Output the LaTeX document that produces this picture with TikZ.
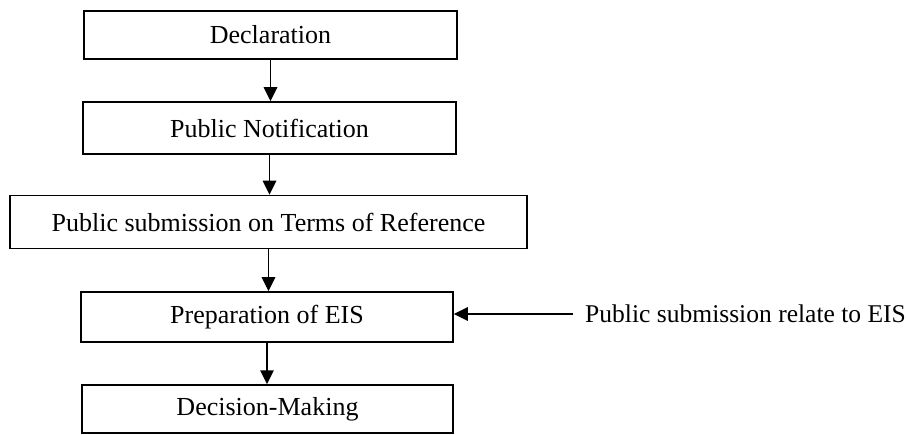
\documentclass[tikz,border=0pt]{standalone}
\usepackage{fontspec}
\setmainfont{Liberation Serif}
\usetikzlibrary{positioning,arrows.meta}

\tikzset{
  stage/.style={draw, line width=1.3pt, inner sep=0pt, align=center,
    font=\fontsize{22.2}{26}\selectfont},
  flow/.style={-{Triangle[length=0.42cm,width=0.40cm]}, line width=1.6pt},
}

\begin{document}
\begin{tikzpicture}[x=0.03cm, y=-0.03cm]
    \useasboundingbox (0,0) rectangle (908,434);

    % Stages (top to bottom)
    \node[stage, minimum width=373*0.03cm, minimum height=48*0.03cm] (decl)
      at (270.5,35) {Declaration};
    \node[stage, minimum width=373*0.03cm, minimum height=52*0.03cm] (notif)
      at (269.5,128) {Public Notification};
    \node[stage, minimum width=517*0.03cm, minimum height=53*0.03cm] (tor)
      at (268.5,222) {Public submission on Terms of Reference};
    \node[stage, minimum width=372*0.03cm, minimum height=50*0.03cm] (eis)
      at (267,317) {Preparation of EIS};
    \node[stage, minimum width=371*0.03cm, minimum height=48*0.03cm] (decision)
      at (267.5,409) {Decision-Making};

    % Side input
    \node[anchor=west, inner xsep=0.36cm, inner ysep=0pt,
      font=\fontsize{21.8}{26}\selectfont] (pubsub) at (573,314)
      {Public submission relate to EIS};

    % Arrows
    \draw[flow] (decl.south) -- (decl.south |- notif.north);
    \draw[flow] (notif.south) -- (notif.south |- tor.north);
    \draw[flow] (tor.south) -- (tor.south |- eis.north);
    \draw[flow] (eis.south) -- (eis.south |- decision.north);
    \draw[flow] (pubsub.west) -- (pubsub.west -| eis.east);
\end{tikzpicture}
\end{document}
